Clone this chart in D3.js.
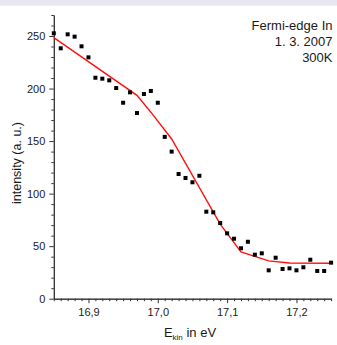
<!DOCTYPE html>
<html>
<head>
<meta charset="utf-8">
<script src="https://cdn.jsdelivr.net/npm/d3@7"></script>
<style>
  html, body { margin: 0; padding: 0; background: #fff; }
  svg { display: block; }
  text { font-family: "Liberation Sans", Arial, sans-serif; fill: #1a1a1a; }
</style>
</head>
<body>
<svg id="chart" width="337" height="345"></svg>
<script>
// ---- data ----
const energies = [16.85,16.86,16.87,16.88,16.89,16.90,16.91,16.92,16.93,16.94,16.95,16.96,16.97,16.98,16.99,
  17.00,17.01,17.02,17.03,17.04,17.05,17.06,17.07,17.08,17.09,17.10,17.11,17.12,17.13,17.14,17.15,17.16,17.17,
  17.18,17.19,17.20,17.21,17.22,17.23,17.24,17.25];
const intensity = [252.6,238.3,251.6,249.4,240.2,229.7,210.3,209.4,207.8,200.5,186.5,196.4,176.7,194.8,197.7,
  186.5,154.0,140.0,118.7,114.9,110.8,117.0,82.8,82.2,72.0,62.2,57.1,48.0,54.2,41.9,43.2,27.0,39.0,
  28.3,28.9,27.0,29.9,37.1,26.4,26.4,34.3];
const fitEnergies = [16.85,16.97,16.99,17.02,17.09,17.12,17.16,17.19,17.25];
const fitValues   = [248.4,193.5,177.5,152.0,71.0,44.5,36.0,34.0,33.8];
const xMajorTicks = [16.9,17.0,17.1,17.2];
const xTickLabels = ["16,9","17,0","17,1","17,2"];
const yMajorTicks = [0,50,100,150,200,250];
const annotation = ["Fermi-edge In","1. 3. 2007","300K"];

// ---- layout ----
const svg = d3.select("#chart");
svg.append("rect").attr("x",0).attr("y",0).attr("width",337).attr("height",5.7).attr("fill","#e7e7f1");

const x = d3.scaleLinear().domain([16.85,17.25]).range([53.8,331.1]);
const y = d3.scaleLinear().domain([0,270]).range([298.7,15]);

// minor ticks
const xMinor = d3.range(0,41).map(i => +(16.85 + i*0.01).toFixed(2)).filter(v => !xMajorTicks.some(m => Math.abs(m-v)<1e-6));
const yMinor = d3.range(0,28).map(i => i*10).filter(v => v % 50 !== 0);

const gx = svg.append("g").attr("transform","translate(0,298.7)");
gx.call(d3.axisBottom(x).tickValues(xMinor).tickSize(2.5).tickSizeOuter(0).tickFormat(""));
gx.append("g").call(d3.axisBottom(x).tickValues(xMajorTicks).tickSize(4.5).tickSizeOuter(0)
   .tickFormat((d,i) => xTickLabels[i]));

const gy = svg.append("g").attr("transform","translate(53.8,0)");
gy.call(d3.axisLeft(y).tickValues(yMinor).tickSize(2.5).tickSizeOuter(0).tickFormat(""));
gy.append("g").call(d3.axisLeft(y).tickValues(yMajorTicks).tickSize(4.5).tickSizeOuter(0));

svg.selectAll(".domain").attr("stroke","#333").attr("stroke-width",1);
svg.selectAll(".tick line").attr("stroke","#333").attr("stroke-width",1);
svg.selectAll(".tick text").attr("font-size","11px").attr("fill","#1a1a1a")
   .attr("font-family","'Liberation Sans', Arial, sans-serif");
gx.selectAll(".tick text").attr("dy","0.85em");
gy.selectAll(".tick text").attr("dx","-1");

// fit line
const line = d3.line().x((d,i) => x(fitEnergies[i])).y(d => y(d));
svg.append("path").datum(fitValues).attr("d", line)
   .attr("fill","none").attr("stroke","#ff1010").attr("stroke-width",1.4);

// data points
svg.append("g").selectAll("rect").data(intensity).join("rect")
   .attr("x",(d,i) => x(energies[i]) - 2).attr("y", d => y(d) - 2)
   .attr("width",4).attr("height",4).attr("fill","#000");

// annotation
svg.append("g").selectAll("text").data(annotation).join("text")
   .attr("x",332.5).attr("y",(d,i) => 29.5 + i*16)
   .attr("text-anchor","end").attr("font-size","13px").text(d => d);

// axis labels
svg.append("text").attr("transform","translate(21,163) rotate(-90)")
   .attr("text-anchor","middle").attr("font-size","12.5px").text("intensity (a. u.)");

const xl = svg.append("text").attr("x",190).attr("y",336.5).attr("text-anchor","middle").attr("font-size","13px");
xl.append("tspan").text("E");
xl.append("tspan").attr("font-size","8px").attr("dy","3").text("kin");
xl.append("tspan").attr("dy","-3").text(" in eV");
</script>
</body>
</html>
